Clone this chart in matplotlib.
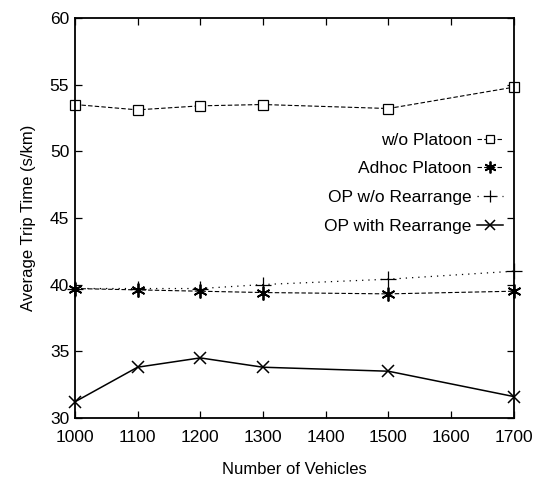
import matplotlib.pyplot as plt
import numpy as np

plt.rcParams['font.family'] = ['Liberation Sans', 'DejaVu Sans']

vehicles = [1000, 1100, 1200, 1300, 1500, 1700]
wo_platoon = [53.5, 53.1, 53.4, 53.5, 53.2, 54.8]
adhoc_platoon = [39.7, 39.6, 39.5, 39.4, 39.3, 39.5]
op_wo_rearrange = [39.7, 39.7, 39.7, 40.0, 40.4, 41.0]
op_with_rearrange = [31.2, 33.8, 34.5, 33.8, 33.5, 31.6]

fig = plt.figure(figsize=(5.42, 4.82), dpi=100)
ax = fig.add_axes([0.138, 0.133, 0.810, 0.830])

ax.plot(vehicles, wo_platoon, color='black', linestyle=(0, (4, 2)), linewidth=0.8,
        marker='s', markersize=7, markerfacecolor='white', markeredgewidth=0.9,
        label='w/o Platoon', clip_on=False)
ax.plot(vehicles, adhoc_platoon, color='black', linestyle=(0, (4, 2)), linewidth=0.8,
        marker=(6, 2, 0), markersize=10, markeredgewidth=1.3, label='Adhoc Platoon',
        clip_on=False)
ax.plot(vehicles, op_wo_rearrange, color='black', linestyle=(0, (1, 4)), linewidth=0.9,
        marker='+', markersize=11, markeredgewidth=0.9, label='OP w/o Rearrange',
        clip_on=False)
ax.plot(vehicles, op_with_rearrange, color='black', linestyle='-', linewidth=1.1,
        marker='x', markersize=9, markeredgewidth=1.1, label='OP with Rearrange',
        clip_on=False)

ax.set_xlim(1000, 1700)
ax.set_ylim(30, 60)
ax.set_xticks(np.arange(1000, 1701, 100))
ax.set_yticks(np.arange(30, 61, 5))
ax.tick_params(direction='in', top=True, right=True, labelsize=12.5, length=5, width=0.9)
ax.tick_params(axis='x', pad=9)
ax.tick_params(axis='y', pad=4)
for s in ax.spines.values():
    s.set_linewidth(1.3)

ax.set_xlabel('Number of Vehicles', fontsize=12, labelpad=12)
ax.set_ylabel('Average Trip Time (s/km)', fontsize=12, labelpad=10)

ax.legend(loc='upper right', bbox_to_anchor=(0.995, 0.735), frameon=False,
          markerfirst=False, fontsize=12.5, handlelength=1.5, handletextpad=0.3,
          labelspacing=0.78, borderpad=0, markerscale=0.85)

fig.savefig('out.png', dpi=100)
